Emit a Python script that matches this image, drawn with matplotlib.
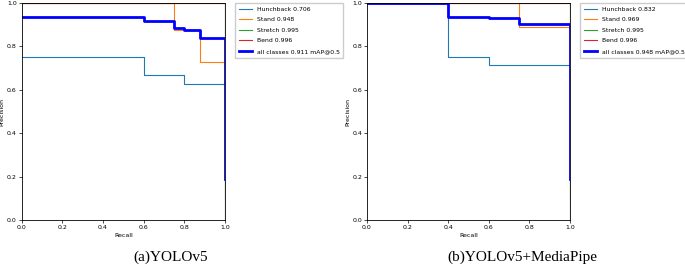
import matplotlib
matplotlib.use('Agg')
from matplotlib import pyplot as plt

# (a) YOLOv5 -- step points: recall breakpoints, precision held until next breakpoint
a_hunch_r = [0.0, 0.6, 0.8, 1.0]
a_hunch_p = [0.75, 0.667, 0.625, 0.0]
a_stand_r = [0.0, 0.75, 0.875, 1.0]
a_stand_p = [1.0, 0.875, 0.727, 0.0]
a_stretch_r = [0.0, 1.0]
a_stretch_p = [1.0, 0.09]
a_bend_r = [0.0, 1.0]
a_bend_p = [1.0, 0.19]
a_all_r = [0.0, 0.6, 0.75, 0.8, 0.875, 1.0]
a_all_p = [0.9375, 0.917, 0.885, 0.875, 0.839, 0.19]
a_labels = ['Hunchback 0.706', 'Stand 0.948', 'Stretch 0.995', 'Bend 0.996',
            'all classes 0.911 mAP@0.5']

# (b) YOLOv5+MediaPipe
b_hunch_r = [0.0, 0.4, 0.6, 1.0]
b_hunch_p = [1.0, 0.75, 0.714, 0.0]
b_stand_r = [0.0, 0.75, 1.0]
b_stand_p = [1.0, 0.889, 0.0]
b_stretch_r = [0.0, 1.0]
b_stretch_p = [1.0, 0.09]
b_bend_r = [0.0, 1.0]
b_bend_p = [1.0, 0.19]
b_all_r = [0.0, 0.4, 0.6, 0.75, 1.0]
b_all_p = [1.0, 0.9375, 0.929, 0.901, 0.19]
b_labels = ['Hunchback 0.832', 'Stand 0.969', 'Stretch 0.995', 'Bend 0.996',
            'all classes 0.948 mAP@0.5']

captions = ['(a)YOLOv5', '(b)YOLOv5+MediaPipe']


def pr_plot(ax, curves, labels):
  colors = ['C0', 'C1', 'C2', 'C3']
  for (r, p), lab, c in zip(curves[:4], labels[:4], colors):
    ax.plot(r, p, drawstyle='steps-post', linewidth=0.8, color=c, label=lab)
  r, p = curves[4]
  ax.plot(r, p, drawstyle='steps-post', linewidth=2, color='blue', label=labels[4])
  ax.set_xlim(0, 1)
  ax.set_ylim(0, 1)
  ax.set_xlabel('Recall', fontsize=4.5, labelpad=2)
  ax.set_ylabel('Precision', fontsize=4.5, labelpad=1.5)
  ax.tick_params(labelsize=4.5, length=2, width=0.5, pad=1.5)
  for s in ax.spines.values():
    s.set_linewidth(0.6)
  ax.legend(bbox_to_anchor=(1.05, 1.0), loc='upper left', fontsize=4.4,
            handlelength=2.2, handletextpad=0.7, labelspacing=0.85,
            borderpad=0.6, borderaxespad=0.0,
            fancybox=False, framealpha=1, edgecolor='#cccccc')


fig = plt.figure(figsize=(6.85, 2.69), dpi=100)
ax1 = fig.add_axes([21.5/685, 1-220/269, (225-21.5)/685, 217/269])
ax2 = fig.add_axes([367/685, 1-220/269, (570-367)/685, 217/269])

pr_plot(ax1, [(a_hunch_r, a_hunch_p), (a_stand_r, a_stand_p), (a_stretch_r, a_stretch_p),
              (a_bend_r, a_bend_p), (a_all_r, a_all_p)], a_labels)
pr_plot(ax2, [(b_hunch_r, b_hunch_p), (b_stand_r, b_stand_p), (b_stretch_r, b_stretch_p),
              (b_bend_r, b_bend_p), (b_all_r, b_all_p)], b_labels)

fig.text(171/685, 1-257/269, captions[0], ha='center', va='center',
         family='Liberation Serif', fontsize=11)
fig.text(522/685, 1-257/269, captions[1], ha='center', va='center',
         family='Liberation Serif', fontsize=11)

fig.savefig('out.png', dpi=100)
